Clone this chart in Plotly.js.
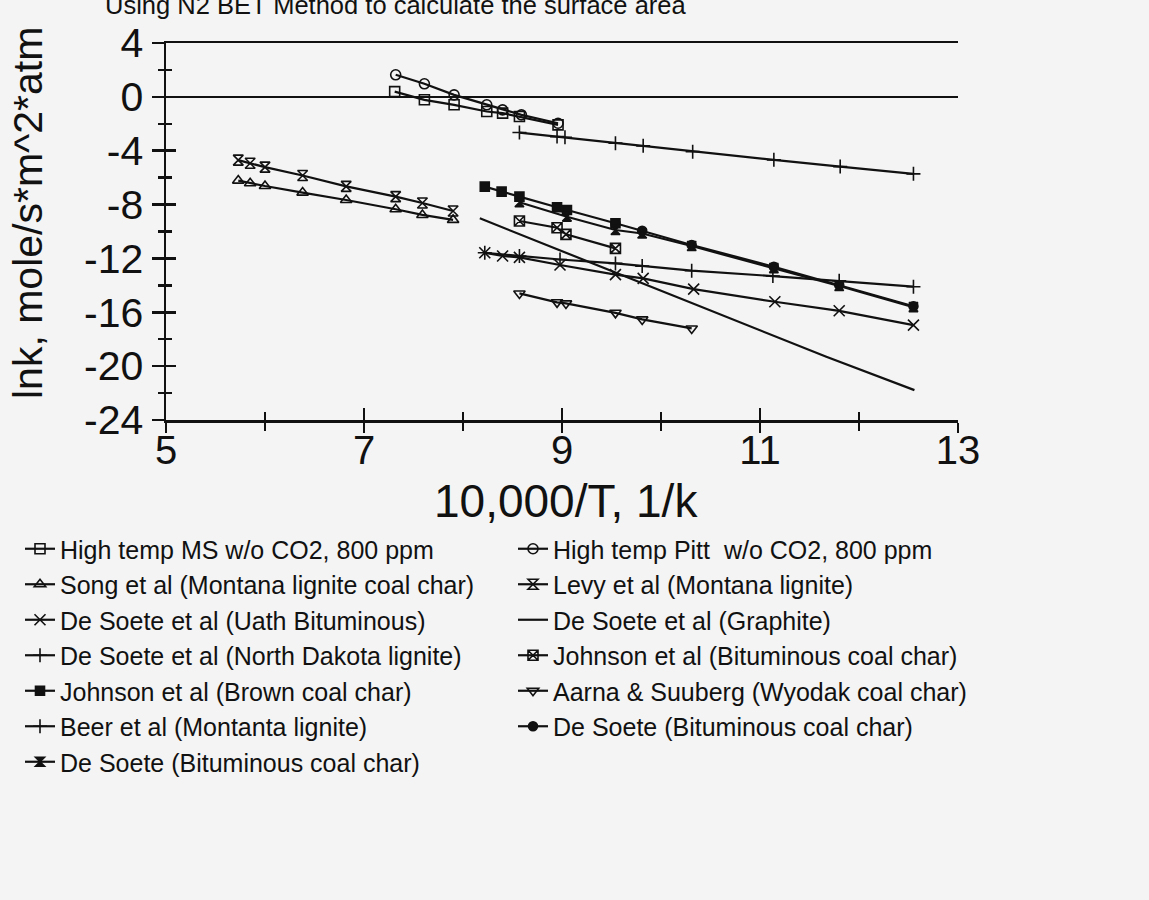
<!DOCTYPE html>
<html>
<head>
<meta charset="utf-8">
<script src="https://cdn.plot.ly/plotly-3.0.1.min.js"></script>
<style>
  html, body { margin: 0; padding: 0; background: #f4f4f4; }
  #chart { width: 1149px; height: 900px; }
</style>
</head>
<body>
<div id="chart"></div>
<script>
// ---- Data (x = 10,000/T, y = lnk) ----
const msX = [7.31, 7.61, 7.91, 8.24, 8.40, 8.57, 8.96];
const msY = [0.39, -0.22, -0.59, -1.09, -1.21, -1.46, -2.08];

const pittX = [7.32, 7.61, 7.91, 8.24, 8.40, 8.59, 8.96];
const pittY = [1.64, 0.97, 0.15, -0.59, -0.97, -1.34, -1.96];

const songX = [5.73, 5.85, 6.00, 6.38, 6.82, 7.32, 7.59, 7.90];
const songY = [-6.22, -6.42, -6.62, -7.11, -7.66, -8.35, -8.77, -9.14];

const levyX = [5.73, 5.85, 6.00, 6.38, 6.82, 7.32, 7.59, 7.90];
const levyY = [-4.70, -4.93, -5.22, -5.84, -6.65, -7.41, -7.88, -8.48];

const uathX = [8.22, 8.40, 8.57, 8.98, 9.54, 9.82, 10.33, 11.15, 11.80, 12.55];
const uathY = [-11.58, -11.82, -11.92, -12.49, -13.20, -13.48, -14.28, -15.22, -15.89, -16.95];

const graphX = [8.17, 9.50, 10.62, 11.67, 12.56];
const graphY = [-9.02, -12.95, -16.20, -19.31, -21.78];

const ndX = [8.22, 8.57, 8.98, 9.54, 9.81, 10.31, 11.13, 11.80, 12.55];
const ndY = [-11.58, -11.82, -12.08, -12.37, -12.57, -12.91, -13.31, -13.66, -14.10];

const johnBitX = [8.57, 8.95, 9.04, 9.54];
const johnBitY = [-9.22, -9.72, -10.21, -11.25];

const johnBrownX = [8.22, 8.39, 8.57, 8.95, 9.05, 9.54];
const johnBrownY = [-6.67, -7.04, -7.41, -8.20, -8.40, -9.39];

const aarnaX = [8.57, 8.95, 9.04, 9.54, 9.81, 10.31];
const aarnaY = [-14.60, -15.26, -15.34, -16.04, -16.53, -17.20];

const beerX = [8.57, 8.95, 9.03, 9.54, 9.82, 10.32, 11.14, 11.81, 12.55];
const beerY = [-2.65, -2.95, -3.00, -3.44, -3.64, -4.07, -4.68, -5.18, -5.72];

const dsCircX = [9.54, 9.81, 10.31, 11.14, 11.80, 12.55];
const dsCircY = [-9.39, -9.94, -11.00, -12.62, -13.98, -15.55];

const dsBowX = [8.57, 9.05, 9.54, 9.81, 10.31, 11.14, 11.80, 12.55];
const dsBowY = [-7.83, -8.90, -9.89, -10.15, -11.08, -12.72, -14.05, -15.62];

const seriesNames = [
  "High temp MS w/o CO2, 800 ppm",
  "High temp Pitt  w/o CO2, 800 ppm",
  "Song et al (Montana lignite coal char)",
  "Levy et al (Montana lignite)",
  "De Soete et al (Uath Bituminous)",
  "De Soete et al (Graphite)",
  "De Soete et al (North Dakota lignite)",
  "Johnson et al (Bituminous coal char)",
  "Johnson et al (Brown coal char)",
  "Aarna & Suuberg (Wyodak coal char)",
  "Beer et al (Montanta lignite)",
  "De Soete (Bituminous coal char)",
  "De Soete (Bituminous coal char)"
];

const yTickVals = [4, 0, -4, -8, -12, -16, -20, -24];
const yTickText = ["4", "0", "-4", "-8", "-12", "-16", "-20", "-24"];
const xTickVals = [5, 7, 9, 11, 13];
const xTickText = ["5", "7", "9", "11", "13"];

const titleText = "Using N2 BET Method to calculate the surface area";
const xTitle = "10,000/T, 1/k";
const yTitle = "lnk, mole/s*m^2*atm";

// ---- Build traces ----
const FONT = "Liberation Sans, Arial, Helvetica, sans-serif";
function tr(x, y, name, symbol, size, legendId) {
  const t = {
    x: x, y: y, name: name, type: "scatter",
    mode: symbol ? "lines+markers" : "lines",
    line: { color: "#111", width: 2.2 },
    xaxis: "x", yaxis: "y",
    legend: legendId
  };
  if (symbol) {
    t.marker = { symbol: symbol, size: size, color: "#111",
                 line: { color: "#111", width: 1.6 } };
  }
  return t;
}

// left legend column = "legend", right legend column = "legend2"
const data = [
  tr(msX, msY, seriesNames[0], "square-open", 10, "legend"),
  tr(pittX, pittY, seriesNames[1], "circle-open", 10, "legend2"),
  tr(songX, songY, seriesNames[2], "triangle-up-open", 10, "legend"),
  tr(levyX, levyY, seriesNames[3], "hourglass-open", 10, "legend2"),
  tr(uathX, uathY, seriesNames[4], "x-thin-open", 11, "legend"),
  tr(graphX, graphY, seriesNames[5], null, 0, "legend2"),
  tr(ndX, ndY, seriesNames[6], "cross-thin-open", 10, "legend"),
  tr(johnBitX, johnBitY, seriesNames[7], "square-x-open", 10, "legend2"),
  tr(johnBrownX, johnBrownY, seriesNames[8], "square", 9, "legend"),
  tr(aarnaX, aarnaY, seriesNames[9], "triangle-down-open", 10, "legend2"),
  tr(beerX, beerY, seriesNames[10], "cross-thin-open", 10, "legend"),
  tr(dsCircX, dsCircY, seriesNames[11], "circle", 9, "legend2"),
  tr(dsBowX, dsBowY, seriesNames[12], "hourglass", 9, "legend"),
  // empty trace to carry the overlay axes (inside half of crossing ticks)
  { x: [], y: [], type: "scatter", mode: "markers", xaxis: "x2", yaxis: "y2",
    showlegend: false, hoverinfo: "skip" }
];

const L = 166, R = 958, T = 43, B = 420, W = 1149, H = 900;
const pw = R - L, ph = B - T;

const legendCommon = {
  orientation: "v",
  xanchor: "left", yanchor: "top",
  font: { family: FONT, size: 25, color: "#111" },
  bgcolor: "rgba(0,0,0,0)", borderwidth: 0,
  traceorder: "normal", itemwidth: 30
};

const layout = {
  width: W, height: H,
  paper_bgcolor: "#f4f4f4",
  plot_bgcolor: "#f4f4f4",
  font: { family: FONT, color: "#111" },
  margin: { l: L, r: W - R, t: T, b: H - B, pad: 0, autoexpand: false },
  showlegend: true,
  title: {
    text: titleText,
    font: { family: FONT, size: 25.5, color: "#111" },
    xref: "container", yref: "container",
    x: 105 / W, xanchor: "left",
    y: 1 - 5 / H, yanchor: "middle",
    automargin: false
  },
  xaxis: {
    range: [5, 13], autorange: false,
    showgrid: false, zeroline: false,
    showline: true, linecolor: "#111", linewidth: 2.5, mirror: true,
    tickmode: "array", tickvals: xTickVals, ticktext: xTickText,
    ticks: "outside", ticklen: 10, tickwidth: 2.5, tickcolor: "#111",
    minor: { dtick: 1, ticks: "outside", ticklen: 8, tickwidth: 2.5, tickcolor: "#111", showgrid: false },
    ticklabelstandoff: -17,
    tickfont: { family: FONT, size: 40, color: "#111" }
  },
  xaxis2: {
    overlaying: "x", anchor: "y", range: [5, 13], autorange: false,
    showgrid: false, zeroline: false, showline: false, showticklabels: false,
    tickmode: "array", tickvals: xTickVals,
    ticks: "inside", ticklen: 12, tickwidth: 2.5, tickcolor: "#111",
    minor: { dtick: 1, ticks: "inside", ticklen: 8, tickwidth: 2.5, tickcolor: "#111", showgrid: false }
  },
  yaxis: {
    range: [-24, 4], autorange: false,
    showgrid: false,
    zeroline: true, zerolinecolor: "#111", zerolinewidth: 2.5,
    showline: true, linecolor: "#111", linewidth: 2.5, mirror: false,
    tickmode: "array", tickvals: yTickVals, ticktext: yTickText,
    ticks: "outside", ticklen: 12, tickwidth: 2.5, tickcolor: "#111",
    minor: { dtick: 2, ticks: "outside", ticklen: 6, tickwidth: 2.5, tickcolor: "#111", showgrid: false },
    ticklabelstandoff: 0,
    tickfont: { family: FONT, size: 41, color: "#111" }
  },
  yaxis2: {
    overlaying: "y", anchor: "x", side: "left", range: [-24, 4], autorange: false,
    showgrid: false, zeroline: false, showline: false, showticklabels: false,
    tickmode: "array", tickvals: yTickVals,
    ticks: "inside", ticklen: 10, tickwidth: 2.5, tickcolor: "#111",
    minor: { dtick: 2, ticks: "inside", ticklen: 6, tickwidth: 2.5, tickcolor: "#111", showgrid: false }
  },
  legend: Object.assign({}, legendCommon, { x: (20 - L) / pw, y: (B - 526) / ph }),
  legend2: Object.assign({}, legendCommon, { x: (513 - L) / pw, y: (B - 526) / ph }),
  annotations: [
    {
      text: xTitle, showarrow: false,
      xref: "paper", yref: "paper",
      x: (566 - L) / pw, y: (B - 501) / ph,
      xanchor: "center", yanchor: "middle",
      font: { family: FONT, size: 46, color: "#111" }
    },
    {
      text: yTitle, showarrow: false, textangle: -90,
      xref: "paper", yref: "paper",
      x: (28 - L) / pw, y: (B - 213) / ph,
      xanchor: "center", yanchor: "middle",
      font: { family: FONT, size: 41, color: "#111" }
    }
  ]
};

Plotly.newPlot("chart", data, layout, { displayModeBar: false, staticPlot: true });
</script>
</body>
</html>
